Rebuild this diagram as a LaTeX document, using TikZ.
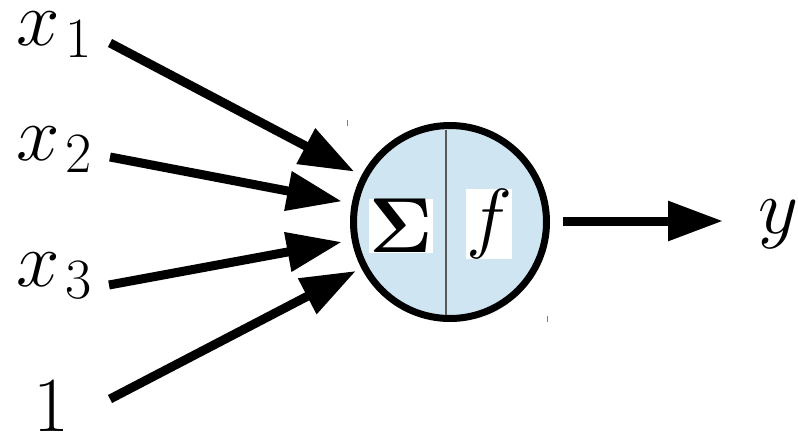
\RequirePackage{fix-cm}
\documentclass[tikz,border=0pt]{standalone}
\usetikzlibrary{arrows.meta}
\definecolor{cellblue}{RGB}{207,229,242}
\newcommand{\subidx}[1]{\kern6pt\raisebox{-12pt}{\fontsize{57}{62}\selectfont #1}}
\tikzset{
  lbl/.style={anchor=base west, inner sep=0pt, font=\fontsize{78}{90}\selectfont},
  conn/.style={line width=9pt, -{Triangle[length=55pt,width=38pt]}},
  neuronstyle/.style={circle, minimum size=193pt, inner sep=0pt, fill=cellblue, draw=black, line width=7pt},
  sym/.style={fill=white, inner sep=0.5pt, font=\fontsize{78}{90}\selectfont},
  divider/.style={draw=black!65, line width=1.4pt},
  tick/.style={draw=black!50, line width=1pt}
}
\begin{document}
\begin{tikzpicture}[x=1pt,y=-1pt]
\useasboundingbox (0,0) rectangle (798,434);
\node[neuronstyle] (neuron) at (450,222) {};
\draw[divider] ([shift={(-4pt,-92.5pt)}]neuron.center) -- ([shift={(-4pt,92.5pt)}]neuron.center);
\node[sym] (sigma) at (401,226) {$\mathbf{\Sigma}$};
\node[sym] (func) at (489,224) {$f$};
\node[lbl] (x1) at (16,45) {$x$\subidx{1}};
\node[lbl] (x2) at (16,160) {$x$\subidx{2}};
\node[lbl] (x3) at (16,286) {$x$\subidx{3}};
\node[lbl] (one) at (33,431) {$1$};
\node[lbl] (y) at (758,233) {$y$};
\coordinate (s1) at (110,43);
\coordinate (s2) at (110,157);
\coordinate (s3) at (109,285);
\coordinate (s4) at (110,399);
\coordinate (ostart) at (563,221);
\coordinate (oend) at (723,221);
\draw[conn, shorten >=8pt] (s1) -- (neuron);
\draw[conn, shorten >=10pt] (s2) -- (neuron);
\draw[conn, shorten >=10pt] (s3) -- (neuron);
\draw[conn, shorten >=6pt] (s4) -- (neuron);
\draw[conn] (ostart) -- (oend);
\coordinate (t1a) at (347,120);
\coordinate (t1b) at (347,126);
\coordinate (t2a) at (547,316);
\coordinate (t2b) at (547,322);
\draw[tick] (t1a) -- (t1b);
\draw[tick] (t2a) -- (t2b);
\end{tikzpicture}
\end{document}
